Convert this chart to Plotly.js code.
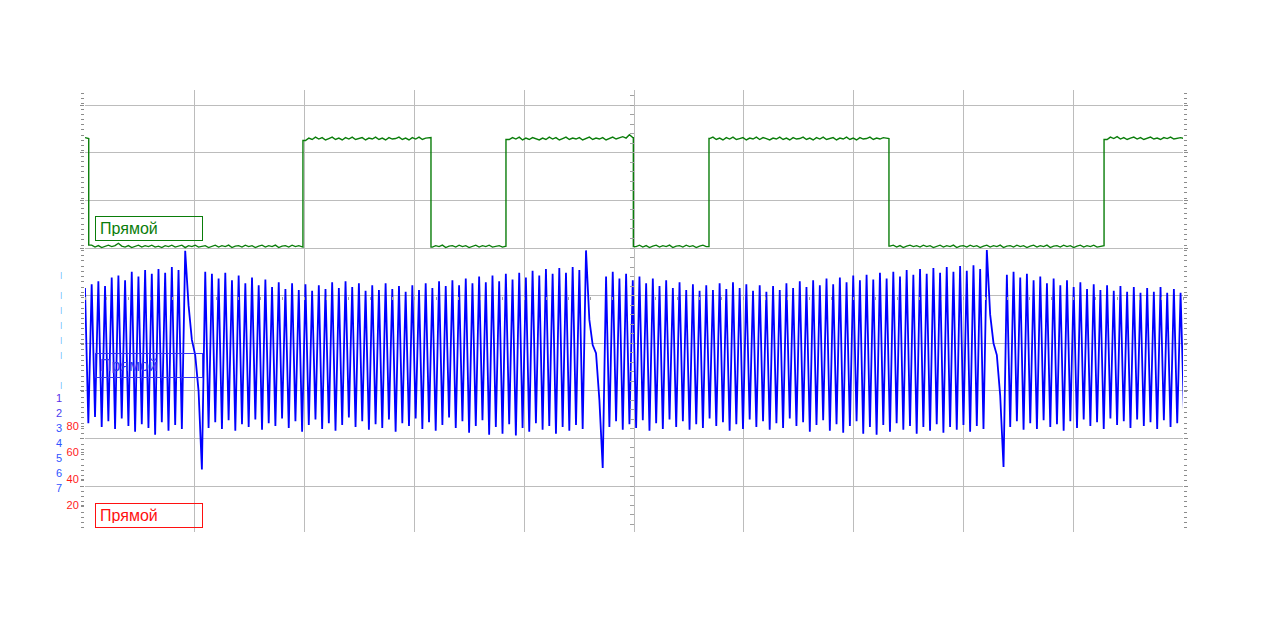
<!DOCTYPE html>
<html><head><meta charset="utf-8">
<script src="https://cdn.plot.ly/plotly-3.0.1.min.js"></script>
<style>html,body{margin:0;padding:0;background:#fff}#chart{width:1288px;height:636px}</style>
</head><body><div id="chart"></div>
<script>
// time base: one sample every 0.03042 horizontal divisions (10 divisions across the screen)
const sampleStep = 0.03042;

// crankshaft (blue) channel, screen units (10 units per vertical division)
const crankValues = [
41.6,13.2,42.4,14.5,43.0,12.4,42.0,13.6,43.8,12.0,
44.2,14.2,43.2,12.6,45.0,11.4,44.0,13.0,45.4,12.2,
44.6,10.8,45.6,13.4,44.8,11.6,46.0,12.8,45.4,12.0,
49.4,38.0,30.7,27.5,20.0,3.5,45.0,12.2,44.6,13.4,
43.6,12.0,44.8,13.8,43.2,11.6,44.2,13.0,42.6,12.4,
43.8,14.0,42.2,11.8,43.4,13.2,41.8,12.6,42.8,14.2,
41.4,12.2,42.6,13.6,41.2,11.4,42.4,12.8,41.0,14.0,
42.2,12.0,41.4,13.2,42.8,11.6,41.6,12.8,43.0,14.4,
41.8,12.4,42.6,13.6,41.0,11.8,42.2,13.0,41.2,12.2,
42.6,14.0,41.4,11.4,42.0,13.2,40.8,12.6,42.2,14.2,
41.2,12.0,42.6,13.4,41.6,11.6,43.0,12.8,42.0,14.4,
43.2,12.2,42.2,13.6,43.6,11.2,42.6,12.6,44.0,13.8,
42.8,10.8,44.2,12.4,43.0,11.0,44.6,13.0,43.4,10.6,
44.8,12.2,43.8,11.4,45.2,13.2,44.2,11.8,45.6,12.6,
44.6,11.0,45.8,12.4,44.8,11.6,46.0,12.8,45.4,12.0,
49.5,34.9,29.6,27.9,18.1,3.8,44.0,12.4,45.0,13.6,
43.6,11.8,44.6,13.0,43.2,12.2,44.0,13.8,42.6,11.6,
43.6,13.2,42.0,12.0,43.2,14.0,41.6,12.4,42.8,13.6,
41.2,11.8,42.4,13.0,41.0,12.2,42.2,14.2,41.2,12.6,
42.6,13.4,41.4,11.6,42.8,13.0,41.6,12.0,42.4,14.0,
41.0,12.4,42.2,13.6,40.8,11.8,42.0,13.2,41.2,12.2,
42.6,14.2,41.6,12.6,43.0,13.4,41.8,11.4,43.2,12.8,
42.2,13.8,43.6,11.6,42.4,13.0,43.8,11.2,42.8,12.6,
44.2,13.6,43.2,11.0,44.4,12.4,43.4,10.8,44.8,12.8,
43.6,11.4,45.0,13.2,44.0,11.8,45.4,12.6,44.4,11.0,
45.6,12.4,44.6,11.6,45.8,13.0,44.8,11.2,46.0,12.4,
45.0,11.8,46.2,12.8,45.2,11.4,46.4,12.6,45.6,12.0,
49.6,36.0,30.0,27.5,19.0,4.0,44.4,12.4,45.0,13.6,
43.8,11.8,44.6,13.2,43.2,12.0,44.0,13.8,42.6,12.4,
43.6,13.0,42.2,11.6,43.2,13.6,41.8,12.2,42.8,14.0,
41.4,12.6,42.4,13.4,41.2,12.0,42.2,14.2,41.0,12.8,
42.0,13.6,40.8,12.2,41.8,14.0,40.6,12.6,41.6,13.4,
40.8,12.0,41.8,13.8,40.6,12.4,41.4,13.2,40.6,16.0
];

// camshaft (green) channel, same time base
const camValues = [
73.2,73.0,
50.6,50.2,50.5,50.1,50.4,50.6,50.3,50.5,51.0,50.4,
50.2,50.5,50.1,50.4,50.6,50.2,50.5,50.3,50.6,50.2,
50.4,50.1,50.5,50.3,50.6,50.2,50.4,50.6,50.1,50.5,
50.3,50.6,50.2,50.4,50.5,50.1,50.4,50.6,50.2,50.5,
50.3,50.6,50.1,50.4,50.5,50.2,50.6,50.3,50.5,50.1,
50.4,50.6,50.2,50.5,50.3,50.6,50.1,50.4,50.5,50.2,
50.6,50.3,50.5,50.2,
72.6,73.1,72.8,73.3,72.9,73.2,72.7,73.0,73.3,72.8,
73.1,72.7,73.2,72.9,73.3,72.8,73.0,73.2,72.7,73.1,
72.9,73.3,72.8,73.1,72.7,73.2,72.9,73.0,73.3,72.8,
73.1,72.7,73.2,72.9,73.3,72.8,73.1,73.2,
50.2,50.5,50.3,50.6,50.1,50.4,50.5,50.2,50.6,50.3,
50.5,50.1,50.4,50.6,50.2,50.5,50.3,50.6,50.2,50.4,
50.5,50.2,50.4,
72.8,73.2,72.9,73.3,72.7,73.1,72.8,73.2,73.0,72.7,
73.1,72.8,73.3,72.9,73.2,72.7,73.0,73.3,72.8,73.1,
72.9,73.2,72.7,73.0,73.3,72.8,73.1,72.9,73.2,72.7,
73.0,73.3,72.9,73.2,73.4,73.1,73.8,73.2,
50.3,50.6,50.2,50.5,50.1,50.4,50.6,50.2,50.5,50.3,
50.6,50.1,50.4,50.5,50.2,50.6,50.3,50.5,50.1,50.4,
50.6,50.3,
73.0,73.3,72.8,73.1,72.7,73.2,72.9,73.3,72.8,73.0,
73.2,72.7,73.1,72.9,73.3,72.8,73.2,73.0,72.7,73.1,
72.9,73.3,72.8,73.1,72.7,73.2,72.9,73.0,73.3,72.8,
73.1,72.7,73.2,72.9,73.3,72.8,73.0,73.2,72.7,73.1,
72.9,73.3,72.8,73.1,72.7,73.2,72.9,73.0,73.3,72.8,
73.1,72.9,73.2,73.0,
50.4,50.6,50.2,50.5,50.1,50.4,50.6,50.3,50.5,50.2,
50.6,50.3,50.5,50.1,50.4,50.6,50.2,50.5,50.3,50.6,
50.1,50.4,50.5,50.2,50.6,50.3,50.5,50.1,50.4,50.6,
50.2,50.5,50.3,50.6,50.1,50.4,50.5,50.2,50.6,50.3,
50.5,50.1,50.4,50.6,50.2,50.5,50.3,50.6,50.1,50.4,
50.5,50.2,50.6,50.3,50.5,50.1,50.4,50.6,50.2,50.5,
50.3,50.6,50.2,50.4,50.5,
72.8,73.3,73.0,73.4,72.9,73.2,72.8,73.1,73.3,72.9,
73.2,72.8,73.0,73.3,72.9,73.1,72.8,73.2,73.0,73.3,
72.9,73.1,73.2,73.0
];

// camshaft edge instants (divisions)
const camEdges = [0.034, 1.985, 3.151, 3.834, 4.994, 5.683, 7.322, 9.281];

// left-side scale labels
const redTickVals = [20, 40, 60, 80];
const blueTickVals = [-7.3, -6, -5, -4, -3, -2, 0, 1, 2, 3, 4, 5, 6, 7];
const markText = "<span style='color:#3fa6ff;font-size:7px'>|</span>";
const blueTickText = [markText, markText, markText, markText, markText, markText, markText,
  "<span style='color:#5a2ee8'>1</span>", "<span style='color:#4a3cf0'>2</span>",
  "3", "4", "5", "6", "7"];
const channelNames = ["Прямой", "Прямой", "Прямой"];
const channelColors = ["#0a7d0a", "#3535f2", "#ff1010"];

const yRange = [-9.66, 83.2];
const crankX = crankValues.map((v, i) => i * sampleStep);
const camX = [], camY = [];
let e = 0;
for (let i = 0; i < camValues.length; i++) {
  const t = i * sampleStep;
  while (e < camEdges.length && camEdges[e] < t) {
    camX.push(camEdges[e], camEdges[e]);
    camY.push(camValues[i - 1], camValues[i]);
    e++;
  }
  camX.push(t); camY.push(camValues[i]);
}

const FONT = "Liberation Sans, Arial, sans-serif";
const traces = [
  {x: camX, y: camY, type: "scatter", mode: "lines", line: {color: "#0a7d0a", width: 1.4}, hoverinfo: "skip"},
  {x: crankX, y: crankValues, type: "scatter", mode: "lines", line: {color: "#0000ff", width: 1.8}, hoverinfo: "skip"},
  {x: [], y: [], xaxis: "x", yaxis: "y2", hoverinfo: "skip"},
  {x: [], y: [], xaxis: "x", yaxis: "y3", hoverinfo: "skip"},
  {x: [], y: [], xaxis: "x", yaxis: "y4", hoverinfo: "skip"},
  {x: [], y: [], xaxis: "x2", yaxis: "y", hoverinfo: "skip"}
];

const centerPos = (40 - yRange[0]) / (yRange[1] - yRange[0]);
const layout = {
  width: 1288, height: 636,
  margin: {l: 85, r: 105, t: 90, b: 104},
  paper_bgcolor: "#ffffff", plot_bgcolor: "#ffffff",
  showlegend: false,
  font: {family: FONT},
  xaxis: {range: [0, 10], tickmode: "array", tickvals: [1,2,3,4,5,6,7,8,9],
    showticklabels: false, ticks: "", showgrid: true, gridcolor: "#bcbcbc", gridwidth: 1,
    zeroline: false, showline: false},
  xaxis2: {overlaying: "x", anchor: "free", position: centerPos, range: [0, 10],
    tickmode: "linear", tick0: 0, dtick: 0.2, ticks: "outside", ticklen: 3, tickcolor: "#a0a0a0",
    showticklabels: false, showgrid: false, zeroline: false, showline: false},
  yaxis: {range: yRange, tickmode: "linear", tick0: 0, dtick: 10,
    showticklabels: false, ticks: "outside", ticklen: 4, tickcolor: "#8c8c8c", mirror: "ticks",
    minor: {dtick: 1.1, ticklen: 3, tickcolor: "#8c8c8c", showgrid: false},
    showgrid: true, gridcolor: "#bcbcbc", gridwidth: 1, zeroline: false, showline: false},
  yaxis2: {overlaying: "y", side: "left", range: [0, 333.6], tickmode: "array", tickvals: redTickVals,
    ticks: "outside", ticklen: 3, tickcolor: "#8c8c8c",
    tickfont: {family: FONT, size: 11, color: "#ff1a1a"},
    showgrid: false, zeroline: false, showline: false},
  yaxis3: {overlaying: "y", side: "left", range: [9.93, -19.53], tickmode: "array",
    tickvals: blueTickVals, ticktext: blueTickText, ticks: "", ticklabelstandoff: 22,
    tickfont: {family: FONT, size: 11, color: "#2f55ff"},
    showgrid: false, zeroline: false, showline: false},
  yaxis4: {overlaying: "y", anchor: "free", position: 0.5, side: "left", range: yRange,
    tickmode: "linear", tick0: 0, dtick: 2, ticks: "outside", ticklen: 4, tickcolor: "#a0a0a0",
    showticklabels: false, showgrid: false, zeroline: false, showline: false},
  annotations: [0.715, 0.405, 0.0656].map((py, k) => ({
    xref: "paper", yref: "paper", x: 0.0091, y: py, xanchor: "left", yanchor: "top",
    text: channelNames[k], showarrow: false, align: "left", valign: "middle",
    width: 98, height: 15, borderpad: 4, borderwidth: 1, bordercolor: channelColors[k],
    font: {family: FONT, size: 16, color: channelColors[k]}
  }))
};

Plotly.newPlot("chart", traces, layout, {staticPlot: true, displayModeBar: false});
</script>
</body></html>
